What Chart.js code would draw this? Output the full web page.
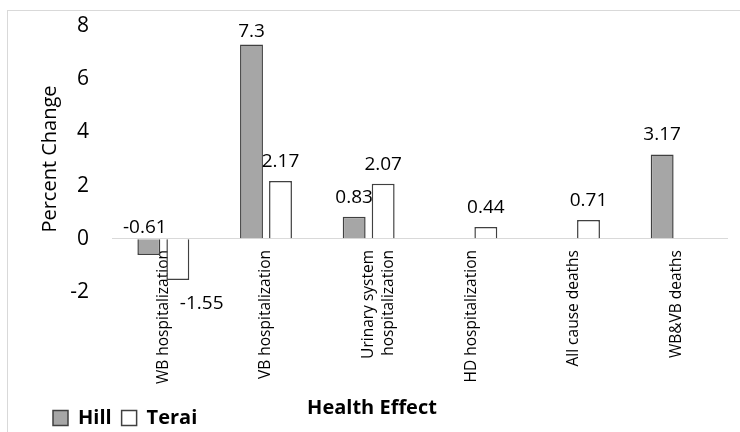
<!DOCTYPE html>
<html><head><meta charset="utf-8">
<script src="https://cdn.jsdelivr.net/npm/chart.js@4.4.0/dist/chart.umd.min.js"></script>
<style>
html,body{margin:0;padding:0;background:#fff;overflow:hidden}
#frame{position:absolute;left:7px;top:10px;width:760px;height:450px;border:1px solid #d9d9d9;box-sizing:border-box}
#wrap{position:absolute;left:0;top:0;width:740px;height:432px}
</style></head><body>
<div id="frame"></div>
<div id="wrap"><canvas id="c"></canvas></div>
<script>
const categories = ['WB hospitalization', 'VB hospitalization', ['Urinary system', 'hospitalization'], 'HD hospitalization', 'All cause deaths', 'WB&VB deaths'];
const hillValues = [-0.61, 7.3, 0.83, null, null, 3.17];
const teraiValues = [-1.55, 2.17, 2.07, 0.44, 0.71, null];
const yTicks = [-2, 0, 2, 4, 6, 8];
const seriesNames = ['Hill', 'Terai'];
const xTitle = 'Health Effect';
const yTitle = 'Percent Change';

const FONT = 'Open Sans';
const X_FONT_SIZE = 15.5, X_LINE_HEIGHT = 1.3;

const valueLabels = {
  id: 'valueLabels',
  afterDatasetsDraw(chart) {
    const {ctx, chartArea} = chart;
    const zeroY = chart.scales.y.getPixelForValue(0);
    ctx.save();
    ctx.font = '19px "' + FONT + '"';
    ctx.fillStyle = '#000';
    ctx.textBaseline = 'alphabetic';
    chart.data.datasets.forEach((ds, di) => {
      const meta = chart.getDatasetMeta(di);
      meta.data.forEach((bar, i) => {
        const v = ds.data[i];
        if (v === null || v === undefined) return;
        let x = bar.x, y, align = 'center';
        if (v >= 0) {
          y = Math.max(bar.y - 14, chartArea.top + 11);
        } else if (di === 0) {
          x = bar.x - 4; y = zeroY - 6;
        } else {
          x = bar.x + 2; y = bar.y + 29; align = 'left';
        }
        ctx.textAlign = align;
        ctx.fillText(String(v), x, y);
      });
    });
    ctx.restore();
  }
};

const xAxisTitle = {
  id: 'xAxisTitle',
  afterDraw(chart) {
    const ctx = chart.ctx;
    ctx.save();
    ctx.font = 'bold 20px "' + FONT + '"';
    ctx.fillStyle = '#000';
    ctx.textAlign = 'center';
    ctx.textBaseline = 'middle';
    ctx.fillText(xTitle, chart.width / 2 + 2, 408);
    ctx.restore();
  }
};

new Chart(document.getElementById('c'), {
  type: 'bar',
  data: {
    labels: categories,
    datasets: [
      {label: seriesNames[0], data: hillValues, backgroundColor: '#a6a6a6', borderColor: '#404040', borderWidth: 1.5,
       categoryPercentage: 0.565, barPercentage: 0.79},
      {label: seriesNames[1], data: teraiValues, backgroundColor: '#ffffff', borderColor: '#404040', borderWidth: 1.5,
       categoryPercentage: 0.565, barPercentage: 0.79}
    ]
  },
  options: {
    responsive: true,
    maintainAspectRatio: false,
    animation: false,
    layout: {padding: {left: 43, right: 12, top: 26, bottom: -6}},
    plugins: {
      tooltip: {enabled: false},
      legend: {
        position: 'bottom', align: 'start',
        labels: {boxWidth: 15, boxHeight: 15, padding: 10, color: '#000',
                 font: {family: FONT, size: 20, weight: 'bold'}}
      }
    },
    scales: {
      x: {
        position: 'bottom', z: 1,
        grid: {display: false, drawTicks: false},
        border: {display: false},
        ticks: {minRotation: 90, maxRotation: 90, autoSkip: false, mirror: true, padding: 42,
                labelOffset: X_FONT_SIZE * X_LINE_HEIGHT, color: '#000',
                font: {family: FONT, size: X_FONT_SIZE, lineHeight: X_LINE_HEIGHT}},
        title: {display: false},
        afterFit(s) { s.height = 106; }
      },
      y: {
        min: -2, max: 8,
        afterBuildTicks(s) { s.ticks = yTicks.map(v => ({value: v})); },
        grid: {drawTicks: true, tickLength: 23, tickColor: 'rgba(0,0,0,0)', lineWidth: 1,
               color: c => (c.tick && c.tick.value === 0) ? '#d9d9d9' : 'rgba(0,0,0,0)'},
        border: {display: false},
        ticks: {padding: 0, color: '#000', font: {family: FONT, size: 21}},
        title: {display: true, text: yTitle, color: '#000',
                font: {family: FONT, size: 20}, padding: {top: -5, bottom: 0}},
        afterFit(s) { s.width = 69; }
      }
    }
  },
  plugins: [valueLabels, xAxisTitle]
});
</script>
</body></html>
